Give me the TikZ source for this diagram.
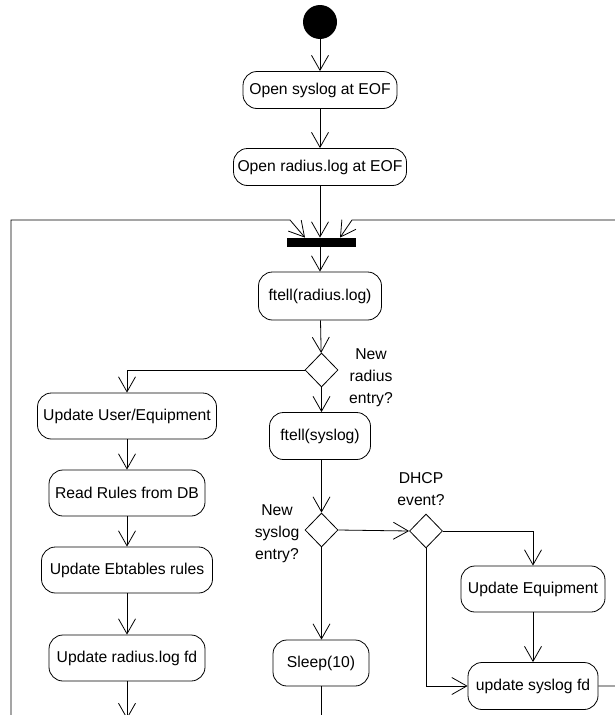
\documentclass[tikz,border=0pt]{standalone}
\usepackage{fontspec}
\setmainfont{Liberation Sans}
\usetikzlibrary{arrows.meta,shapes.geometric}
\begin{document}
\begin{tikzpicture}[x=1pt,y=-1pt,
  line width=0.8pt,
  txt/.style={font=\fontsize{15.7}{22}\selectfont},
  act/.style={draw, txt, rounded corners=14pt, inner sep=0pt, fill=white},
  decision/.style={draw, diamond, inner sep=0pt, minimum width=33pt, minimum height=34pt},
  label/.style={txt, align=center, inner sep=0pt},
  flow/.style={-{Straight Barb[length=15pt,width=17pt]}},
  bar/.style={fill=black, draw=none, inner sep=0pt, minimum width=69pt, minimum height=9pt}]
\useasboundingbox (0,0) rectangle (614,715);

% start and initialisation
\node[fill=black, circle, minimum size=34pt, inner sep=0pt] (start) at (320,22) {};
\node[act, minimum width=154pt, minimum height=37pt] (opensys) at (320,90) {Open syslog at EOF};
\node[act, minimum width=173pt, minimum height=37pt] (openrad) at (320,167) {Open radius.log at EOF};
\node[bar] (join) at (321.5,242.5) {};

% main loop
\node[act, minimum width=123pt, minimum height=48pt] (ftellrad) at (320,296) {ftell(radius.log)};
\node[decision] (newrad) at (321.5,370) {};
\node[label] at (371,378) {New\\radius\\entry?};
\node[act, minimum width=101pt, minimum height=47pt] (ftellsys) at (320,436) {ftell(syslog)};
\node[decision] (newsys) at (321.5,530) {};
\node[label] at (277,534) {New\\syslog\\entry?};
\node[decision] (dhcp) at (426,531) {};
\node[label] at (421,489) {DHCP\\event?};
\node[act, minimum width=96pt, minimum height=46pt] (sleep) at (321,663) {Sleep(10)};

% radius branch
\node[act, minimum width=179pt, minimum height=46pt] (upduser) at (127,416) {Update User/Equipment};
\node[act, minimum width=156pt, minimum height=46pt] (rules) at (127,493) {Read Rules from DB};
\node[act, minimum width=171pt, minimum height=46pt] (ebt) at (127,570) {Update Ebtables rules};
\node[act, minimum width=156pt, minimum height=46pt] (radfd) at (127,658) {Update radius.log fd};

% syslog branch
\node[act, minimum width=144pt, minimum height=46pt] (updeq) at (533,589) {Update Equipment};
\node[act, minimum width=130pt, minimum height=47pt] (sysfd) at (533,686) {update syslog fd};

% loose ends
\coordinate (radout) at (127,719);
\coordinate (sleepout) at (321,720);
\coordinate (loopleft) at (11,720);
\coordinate (loopright) at (620,686);

% connectors
\draw[flow] (start) -- (opensys);
\draw[flow] (opensys) -- (openrad);
\draw[flow] (openrad.south) -- (join.north -| openrad.south);
\draw[flow] (join.south -| ftellrad.north) -- (ftellrad);
\draw[flow] (ftellrad) -- (newrad);
\draw[flow] (newrad) -- (ftellsys.north -| newrad.south);
\draw[flow] (newrad.west) -| (upduser.north);
\draw[flow] (upduser) -- (rules);
\draw[flow] (rules) -- (ebt);
\draw[flow] (ebt) -- (radfd);
\draw[flow] (radfd) -- (radout);
\draw[flow] (ftellsys.south -| newsys.north) -- (newsys);
\draw[flow] (newsys.east) -- (dhcp.west);
\draw[flow] (newsys.south) -- (sleep.north -| newsys.south);
\draw (sleep.south -| sleepout) -- (sleepout);
\draw[flow] (dhcp.east) -| (updeq.north -| sysfd.north);
\draw[flow] (updeq.south -| sysfd.north) -- (sysfd);
\draw[flow] (dhcp.south) |- (sysfd.west);
\draw[flow] (sysfd.east) -- (loopright) |- (352,220) -- (join.north -| 340,0);
\draw[flow] (loopleft) -- (11,220) -- (290,220) -- (join.north -| 305,0);
\end{tikzpicture}
\end{document}
